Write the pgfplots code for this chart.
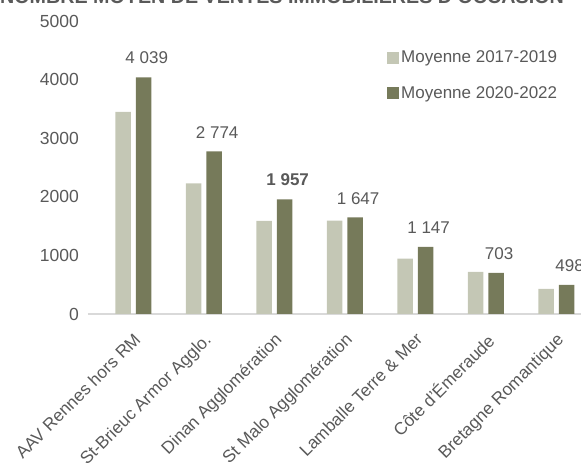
\documentclass[border=0pt]{standalone}
\usepackage{fontspec}
\setmainfont{Liberation Sans}
\usepackage{pgfplots}
\pgfplotsset{compat=1.18}

\definecolor{clair}{HTML}{C4C7B5}
\definecolor{fonce}{HTML}{767A5A}
\definecolor{texte}{HTML}{595959}
\definecolor{axe}{HTML}{D9D9D9}

\begin{document}
\begin{tikzpicture}[x=1pt,y=1pt]
\useasboundingbox (0,0) rectangle (581,465);
% title, partly above the page
\node[anchor=base, font=\bfseries\fontsize{19.7}{22}\selectfont, text=texte]
  at (282,461) {NOMBRE MOYEN DE VENTES IMMOBILIÈRES D'OCCASION};
\begin{axis}[
  at={(88pt,151pt)}, anchor=south west,
  width=493pt, height=293pt, scale only axis,
  xmin=-0.645, xmax=6.35, ymin=0, ymax=5000,
  ybar=5pt, bar width=15.5pt,
  axis lines*=left,
  y axis line style={draw=none},
  x axis line style={draw=axe, line width=1.5pt},
  major tick length=0pt,
  ytick={0,1000,...,5000},
  /pgf/number format/.cd, 1000 sep={}, assume math mode=true,
  /pgfplots/.cd,
  yticklabel style={font=\fontsize{17.5}{20}\selectfont, text=texte,
    inner sep=0pt, xshift=-9pt},
  xtick={0,...,6},
  xticklabels={AAV Rennes hors RM, St-Brieuc Armor Agglo., Dinan Agglomération,
    St Malo Agglomération, Lamballe Terre \& Mer, Côte d'Émeraude,
    Bretagne Romantique},
  xticklabel style={rotate=45, anchor=north east, inner sep=1pt,
    font=\fontsize{17.3}{19}\selectfont, text=texte, xshift=-12pt, yshift=-11pt},
  clip=false,
  legend style={at={(0.6065,0.905)}, anchor=north west, draw=none, fill=none,
    font=\fontsize{17}{20}\selectfont, text=texte,
    row sep=18pt, inner sep=0pt,
    /tikz/every even column/.append style={column sep=4pt}},
  legend cell align=left,
]
\addplot[fill=clair, draw=none,
  legend image code/.code={\fill[clair] (0pt,-6pt) rectangle (12pt,6pt);}]
  coordinates {(0,3450) (1,2230) (2,1587) (3,1592) (4,944) (5,717) (6,427)};
\addlegendentry{Moyenne 2017-2019}
\addplot[fill=fonce, draw=none,
  legend image code/.code={\fill[fonce] (0pt,-6pt) rectangle (12pt,6pt);},
  point meta=explicit symbolic,
  nodes near coords,
  nodes near coords style={font=\fontsize{17}{20}\selectfont, text=texte,
    anchor=south, inner sep=0pt, yshift=13pt, xshift=3pt}]
  coordinates {(0,4039) [4\ 039] (1,2774) [2\ 774] (2,1957) [\textbf{1\ 957}]
    (3,1647) [1\ 647] (4,1147) [1\ 147] (5,703) [703] (6,498) [498]};
\addlegendentry{Moyenne 2020-2022}
\end{axis}
\end{tikzpicture}
\end{document}
